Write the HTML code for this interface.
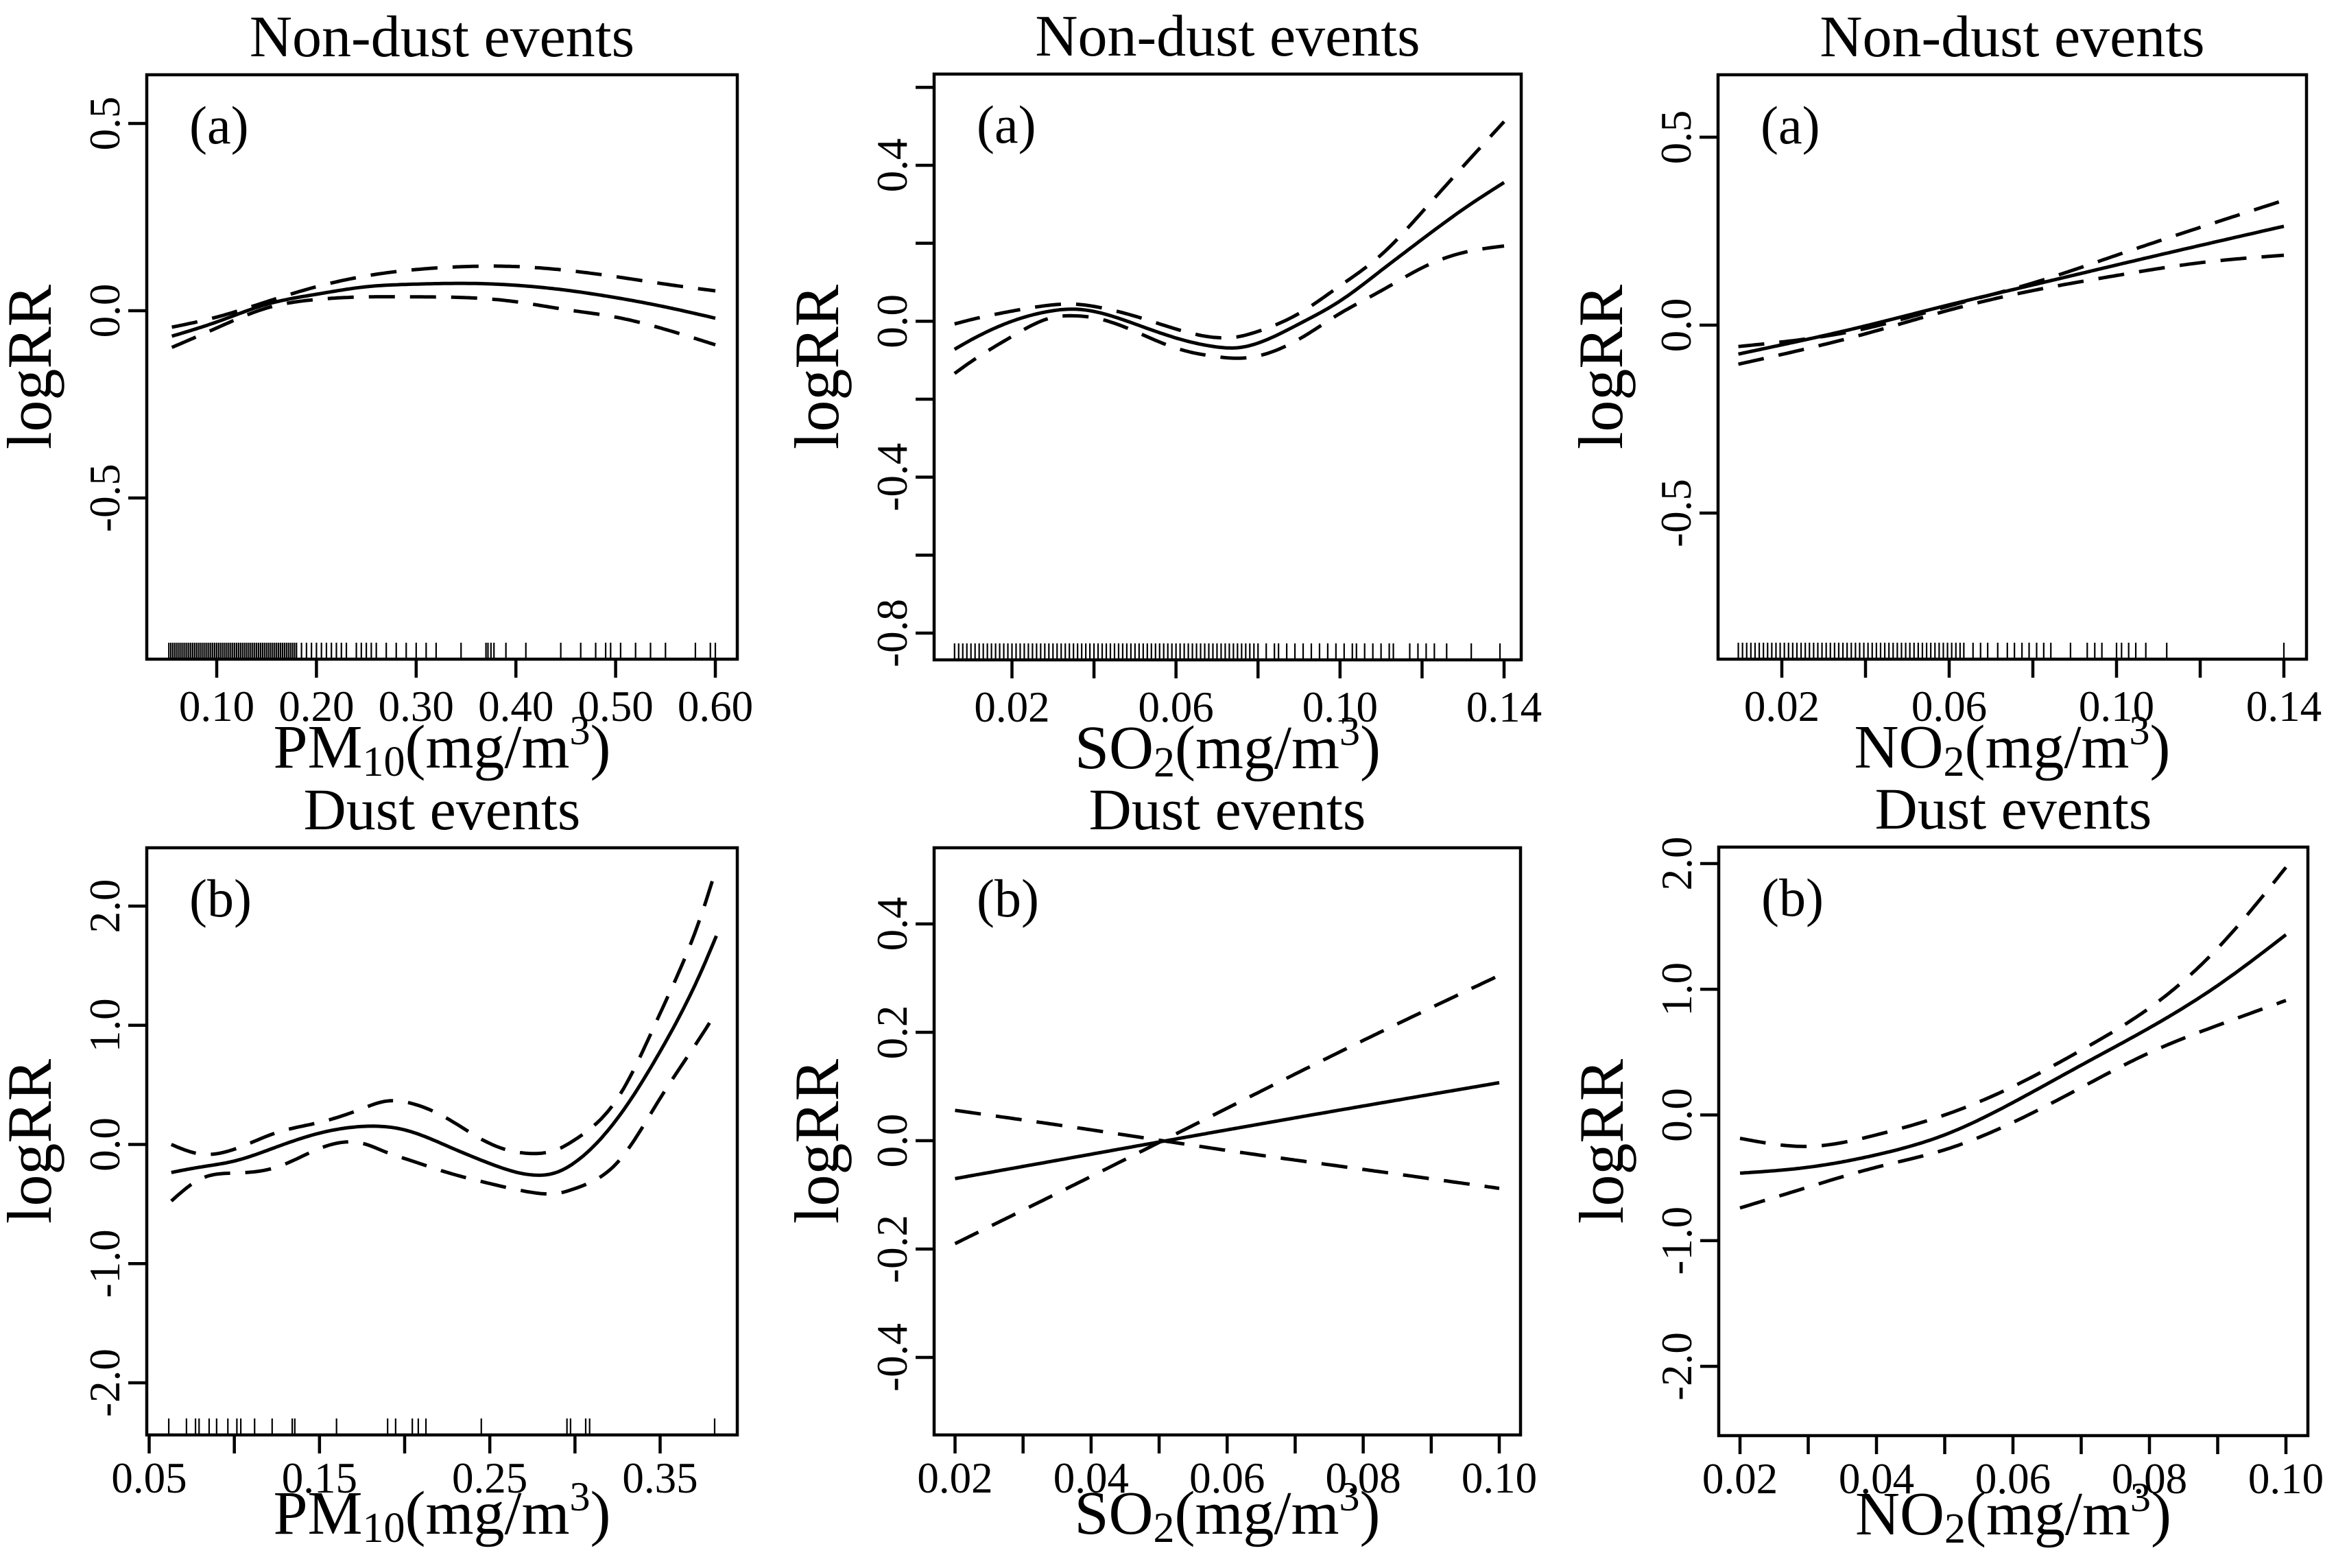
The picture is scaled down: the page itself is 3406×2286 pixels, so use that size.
<!DOCTYPE html>
<html><head><meta charset="utf-8"><title>logRR panels</title>
<style>
html,body{margin:0;padding:0;background:#fff;}
svg{display:block;}
text{font-family:"Liberation Serif","DejaVu Serif",serif;fill:#000;}
</style></head>
<body>
<svg id="fig" width="3406" height="2286" viewBox="0 0 3406 2286" xmlns="http://www.w3.org/2000/svg">
<rect x="0" y="0" width="3406" height="2286" fill="#fff"/>
</svg>
<script>
// ---------- Panel 1: Non-dust PM10 ----------
const p1X   = [0.055,0.10,0.15,0.20,0.25,0.30,0.35,0.40,0.45,0.50,0.55,0.60];
const p1Fit = [-0.068,-0.030,0.017,0.044,0.064,0.071,0.073,0.068,0.055,0.035,0.010,-0.020];
const p1Up  = [-0.044,-0.017,0.024,0.064,0.093,0.110,0.118,0.118,0.108,0.091,0.071,0.053];
const p1Lo  = [-0.098,-0.046,0.007,0.030,0.037,0.037,0.035,0.024,0.003,-0.017,-0.050,-0.091];
const p1Rug = [0.052,0.054,0.056,0.058,0.060,0.062,0.064,0.066,0.068,0.070,0.072,0.074,0.076,0.078,0.080,0.082,0.084,0.086,0.088,0.090,0.092,0.094,0.096,0.098,0.100,0.102,0.104,0.106,0.108,0.110,0.112,0.114,0.116,0.118,0.120,0.122,0.124,0.126,0.128,0.130,0.132,0.134,0.136,0.138,0.140,0.142,0.144,0.146,0.148,0.150,0.152,0.154,0.156,0.158,0.160,0.162,0.164,0.166,0.168,0.170,0.172,0.174,0.176,0.178,0.180,0.185,0.19,0.195,0.20,0.205,0.21,0.215,0.22,0.225,0.23,0.24,0.245,0.25,0.255,0.26,0.27,0.28,0.29,0.30,0.31,0.32,0.345,0.37,0.372,0.375,0.378,0.39,0.41,0.445,0.465,0.48,0.49,0.495,0.505,0.52,0.535,0.55,0.58,0.595,0.60];
const p1XTicks = [0.10,0.20,0.30,0.40,0.50,0.60];
const p1XLabels = ["0.10","0.20","0.30","0.40","0.50","0.60"];
const p1YTicks = [0.5,0.0,-0.5];
const p1YLabels = ["0.5","0.0","-0.5"];

// ---------- Panel 2: Non-dust SO2 ----------
const p2X   = [0.006,0.01,0.02,0.03,0.035,0.04,0.05,0.06,0.07,0.075,0.08,0.09,0.10,0.11,0.12,0.13,0.14];
const p2Fit = [-0.072,-0.048,0.000,0.027,0.031,0.025,-0.007,-0.043,-0.066,-0.068,-0.056,-0.007,0.052,0.130,0.210,0.287,0.356];
const p2Up  = [-0.007,0.004,0.026,0.042,0.044,0.038,0.013,-0.020,-0.042,-0.040,-0.026,0.020,0.091,0.170,0.280,0.397,0.512];
const p2Lo  = [-0.134,-0.104,-0.039,0.010,0.014,0.009,-0.026,-0.069,-0.091,-0.095,-0.089,-0.046,0.020,0.078,0.137,0.176,0.193];
const p2Rug = [0.006,0.007,0.008,0.009,0.010,0.011,0.012,0.013,0.014,0.015,0.016,0.017,0.018,0.019,0.020,0.021,0.022,0.023,0.024,0.025,0.026,0.027,0.028,0.029,0.030,0.031,0.032,0.033,0.034,0.035,0.036,0.037,0.038,0.039,0.040,0.041,0.042,0.043,0.044,0.045,0.046,0.047,0.048,0.049,0.050,0.051,0.052,0.053,0.054,0.055,0.056,0.057,0.058,0.059,0.060,0.061,0.062,0.063,0.064,0.065,0.066,0.067,0.068,0.069,0.070,0.071,0.072,0.073,0.074,0.075,0.076,0.077,0.078,0.079,0.080,0.082,0.084,0.085,0.087,0.089,0.091,0.093,0.095,0.097,0.099,0.101,0.103,0.104,0.106,0.108,0.110,0.112,0.113,0.117,0.119,0.121,0.123,0.126,0.132,0.139];
const p2XTicks = [0.02,0.04,0.06,0.08,0.10,0.12,0.14];
const p2XLabels = ["0.02","","0.06","","0.10","","0.14"];
const p2YTicks = [0.6,0.4,0.2,0.0,-0.2,-0.4,-0.6,-0.8];
const p2YLabels = ["","0.4","","0.0","","-0.4","","-0.8"];

// ---------- Panel 3: Non-dust NO2 ----------
const p3X   = [0.0096,0.04,0.06,0.08,0.10,0.12,0.14];
const p3Fit = [-0.077,-0.002,0.054,0.107,0.160,0.212,0.263];
const p3Up  = [-0.057,-0.009,0.051,0.112,0.186,0.260,0.332];
const p3Lo  = [-0.104,-0.023,0.040,0.092,0.132,0.166,0.186];
const p3Rug = [0.0096,0.0106,0.0116,0.0126,0.0136,0.0146,0.0156,0.0166,0.0176,0.0186,0.0196,0.0206,0.0216,0.0226,0.0236,0.0246,0.0256,0.0266,0.0276,0.0286,0.0296,0.0306,0.0316,0.0326,0.0336,0.0346,0.0356,0.0366,0.0376,0.0386,0.0396,0.0406,0.0416,0.0426,0.0436,0.0446,0.0456,0.0466,0.0476,0.0486,0.0496,0.0506,0.0516,0.0526,0.0536,0.0546,0.0556,0.0566,0.0576,0.0586,0.0596,0.0606,0.0616,0.0626,0.0635,0.0657,0.0675,0.0692,0.0716,0.0739,0.0756,0.0774,0.0791,0.0809,0.0826,0.0843,0.089,0.093,0.0948,0.0965,0.100,0.1012,0.1029,0.1046,0.107,0.112,0.14];
const p3XTicks = [0.02,0.04,0.06,0.08,0.10,0.12,0.14];
const p3XLabels = ["0.02","","0.06","","0.10","","0.14"];
const p3YTicks = [0.5,0.0,-0.5];
const p3YLabels = ["0.5","0.0","-0.5"];

// ---------- Panel 4: Dust PM10 ----------
const p4X   = [0.063,0.08,0.10,0.125,0.15,0.175,0.19,0.20,0.225,0.25,0.275,0.29,0.30,0.325,0.35,0.375,0.383];
const p4Fit = [-0.235,-0.190,-0.139,-0.020,0.095,0.151,0.147,0.122,-0.013,-0.160,-0.256,-0.230,-0.150,0.220,0.780,1.480,1.750];
const p4Up  = [0.000,-0.080,-0.040,0.100,0.185,0.300,0.365,0.357,0.218,0.008,-0.076,-0.040,0.040,0.387,1.100,1.960,2.320];
const p4Lo  = [-0.475,-0.290,-0.240,-0.190,-0.034,0.010,-0.070,-0.118,-0.235,-0.328,-0.403,-0.410,-0.370,-0.150,0.387,0.930,1.110];
const p4Rug = [0.0615,0.0719,0.0772,0.0793,0.0852,0.0896,0.0962,0.1015,0.1038,0.1119,0.1222,0.134,0.1355,0.160,0.190,0.1947,0.2045,0.208,0.2125,0.245,0.2953,0.2974,0.3063,0.3086,0.382];
const p4XTicks = [0.05,0.10,0.15,0.20,0.25,0.30,0.35];
const p4XLabels = ["0.05","","0.15","","0.25","","0.35"];
const p4YTicks = [2,1,0,-1,-2];
const p4YLabels = ["2.0","1.0","0.0","-1.0","-2.0"];

// ---------- Panel 5: Dust SO2 ----------
const p5X   = [0.02,0.04,0.06,0.08,0.10];
const p5Fit = [-0.070,-0.025,0.020,0.064,0.107];
const p5CiA = [0.056,0.020,-0.018,-0.053,-0.088];
const p5CiB = [-0.190,-0.066,0.060,0.185,0.305];
const p5XTicks = [0.02,0.03,0.04,0.05,0.06,0.07,0.08,0.09,0.10];
const p5XLabels = ["0.02","","0.04","","0.06","","0.08","","0.10"];
const p5YTicks = [0.4,0.2,0.0,-0.2,-0.4];
const p5YLabels = ["0.4","0.2","0.0","-0.2","-0.4"];

// ---------- Panel 6: Dust NO2 ----------
const p6X   = [0.02,0.03,0.04,0.05,0.06,0.07,0.08,0.09,0.10];
const p6Fit = [-0.463,-0.416,-0.317,-0.158,0.099,0.396,0.693,1.030,1.434];
const p6Up  = [-0.186,-0.250,-0.158,0.000,0.226,0.515,0.851,1.327,1.970];
const p6Lo  = [-0.740,-0.574,-0.416,-0.277,-0.059,0.218,0.495,0.713,0.911];
const p6XTicks = [0.02,0.03,0.04,0.05,0.06,0.07,0.08,0.09,0.10];
const p6XLabels = ["0.02","","0.04","","0.06","","0.08","","0.10"];
const p6YTicks = [2,1,0,-1,-2];
const p6YLabels = ["2.0","1.0","0.0","-1.0","-2.0"];

const NS = "http://www.w3.org/2000/svg";
const svg = document.getElementById('fig');

function mk(tag, attrs, parent){
  const e = document.createElementNS(NS, tag);
  for (const k in attrs) e.setAttribute(k, attrs[k]);
  (parent||svg).appendChild(e);
  return e;
}
function linScale(v0,p0,v1,p1){ return v => p0 + (v - v0) * (p1 - p0) / (v1 - v0); }
function splineSample(xv, yv, n){
  const k = xv.length;
  if (k < 3) return xv.map((x,i)=>[x,yv[i]]);
  const h = [], al = [], l = [1], mu = [0], z = [0], c = new Array(k).fill(0), b = [], d = [];
  for (let i = 0; i < k-1; i++) h.push(xv[i+1]-xv[i]);
  for (let i = 1; i < k-1; i++) al[i] = 3/h[i]*(yv[i+1]-yv[i]) - 3/h[i-1]*(yv[i]-yv[i-1]);
  for (let i = 1; i < k-1; i++){
    l[i] = 2*(xv[i+1]-xv[i-1]) - h[i-1]*mu[i-1];
    mu[i] = h[i]/l[i];
    z[i] = (al[i] - h[i-1]*z[i-1])/l[i];
  }
  l[k-1] = 1; z[k-1] = 0; c[k-1] = 0;
  for (let j = k-2; j >= 0; j--){
    c[j] = z[j] - mu[j]*c[j+1];
    b[j] = (yv[j+1]-yv[j])/h[j] - h[j]*(c[j+1]+2*c[j])/3;
    d[j] = (c[j+1]-c[j])/(3*h[j]);
  }
  const out = [];
  for (let s = 0; s <= n; s++){
    const x = xv[0] + (xv[k-1]-xv[0])*s/n;
    let j = 0;
    while (j < k-2 && x > xv[j+1]) j++;
    const dx = x - xv[j];
    out.push([x, yv[j] + b[j]*dx + c[j]*dx*dx + d[j]*dx*dx*dx]);
  }
  return out;
}

const panels = [
  {id:"p1", title:"Non-dust events", tag:"(a)", pol:"PM", sub:"10", box:[214,109,1075,961], xm:[0.10,316,0.60,1043], ym:[0.5,180,-0.5,726],
   x:p1X, series:[[p1Fit,"fit"],[p1Up,"upper"],[p1Lo,"lower"]], rug:p1Rug, xt:p1XTicks, xl:p1XLabels, yt:p1YTicks, yl:p1YLabels},
  {id:"p2", title:"Non-dust events", tag:"(a)", pol:"SO", sub:"2", box:[1362,108,2218,962], xm:[0.02,1475.5,0.14,2193], ym:[0.4,241,-0.8,923],
   x:p2X, series:[[p2Fit,"fit"],[p2Up,"upper"],[p2Lo,"lower"]], rug:p2Rug, xt:p2XTicks, xl:p2XLabels, yt:p2YTicks, yl:p2YLabels},
  {id:"p3", title:"Non-dust events", tag:"(a)", pol:"NO", sub:"2", box:[2505,109,3363,961], xm:[0.02,2598,0.14,3330], ym:[0.5,200,-0.5,748],
   x:p3X, series:[[p3Fit,"fit"],[p3Up,"upper"],[p3Lo,"lower"]], rug:p3Rug, xt:p3XTicks, xl:p3XLabels, yt:p3YTicks, yl:p3YLabels},
  {id:"p4", title:"Dust events", tag:"(b)", pol:"PM", sub:"10", box:[214,1236,1075,2092], xm:[0.05,217.5,0.35,962.5], ym:[2,1321,-2,2016],
   x:p4X, series:[[p4Fit,"fit"],[p4Up,"upper"],[p4Lo,"lower"]], rug:p4Rug, xt:p4XTicks, xl:p4XLabels, yt:p4YTicks, yl:p4YLabels},
  {id:"p5", title:"Dust events", tag:"(b)", pol:"SO", sub:"2", box:[1362,1236,2217,2092], xm:[0.02,1392.5,0.10,2186], ym:[0.4,1347,-0.4,1979],
   x:p5X, series:[[p5Fit,"fit"],[p5CiA,"upper"],[p5CiB,"lower"]], rug:[], xt:p5XTicks, xl:p5XLabels, yt:p5YTicks, yl:p5YLabels},
  {id:"p6", title:"Dust events", tag:"(b)", pol:"NO", sub:"2", box:[2506,1235,3365,2093], xm:[0.02,2537,0.10,3333], ym:[2,1259,-2,1992],
   x:p6X, series:[[p6Fit,"fit"],[p6Up,"upper"],[p6Lo,"lower"]], rug:[], xt:p6XTicks, xl:p6XLabels, yt:p6YTicks, yl:p6YLabels}
];

panels.forEach(P => {
  const g = mk('g', {});
  
  
  const [L,T,R,B] = P.box;
  const xs = linScale(P.xm[0],P.xm[1],P.xm[2],P.xm[3]);
  const ys = linScale(P.ym[0],P.ym[1],P.ym[2],P.ym[3]);
  const cx = (L+R)/2, cy = (T+B)/2;

  const title = mk('text', {x:cx, y:T-27, 'font-size':86, 'text-anchor':'middle'}, g);
  title.textContent = P.title;
  
  

  const clipId = P.id + '-clip';
  const cp = mk('clipPath', {id:clipId}, g);
  mk('rect', {x:L, y:T, width:R-L, height:B-T}, cp);

  const cg = mk('g', {'clip-path':'url(#'+clipId+')'}, g);
  P.series.forEach(([vals,kind]) => {
    const pts = splineSample(P.x, vals, 200).map(p => [xs(p[0]), ys(p[1])]);
    const d = "M" + pts.map(p => p[0].toFixed(1) + "," + p[1].toFixed(1)).join(" L");
    const path = mk('path', {d:d, fill:'none', stroke:'#000', 'stroke-width':5,
      'stroke-dasharray': kind === 'fit' ? 'none' : '38 22', 'stroke-linejoin':'round'}, cg);
    
    
  });

  if (P.rug.length){
    const rg = mk('g', {}, g);
    
    
    P.rug.forEach(v => {
      const x = xs(v);
      const ln = mk('line', {x1:x, x2:x, y1:B, y2:B-24, stroke:'#000', 'stroke-width':2.2}, rg);
      
      
    });
  }

  const box = mk('rect', {x:L, y:T, width:R-L, height:B-T, fill:'none', stroke:'#000', 'stroke-width':4.5}, g);
  
  

  P.xt.forEach((v,i) => {
    const x = xs(v);
    const t = mk('line', {x1:x, x2:x, y1:B, y2:B+27, stroke:'#000', 'stroke-width':4.5}, g);
    
    
    if (P.xl[i]){
      const lb = mk('text', {x:x, y:B + (T < 500 ? 90 : 84), 'font-size':63, 'text-anchor':'middle'}, g);
      lb.textContent = P.xl[i];
      
      
    }
  });
  P.yt.forEach((v,i) => {
    const y = ys(v);
    const t = mk('line', {x1:L, x2:L-27, y1:y, y2:y, stroke:'#000', 'stroke-width':4.5}, g);
    
    
    if (P.yl[i]){
      const bx = L - 40;
      const lb = mk('text', {x:bx, y:y, 'font-size':63, 'text-anchor':'middle', transform:'rotate(-90 '+bx+' '+y+')'}, g);
      lb.textContent = P.yl[i];
      
      
    }
  });

  const yx = L - 140;
  const yt = mk('text', {x:yx, y:cy, 'font-size':92, 'text-anchor':'middle', transform:'rotate(-90 '+yx+' '+cy+')'}, g);
  yt.textContent = 'logRR';
  
  

  const xt = mk('text', {x:cx, y:B + (T < 500 ? 158 : 144), 'font-size':90, 'text-anchor':'middle'}, g);
  
  
  const s1 = mk('tspan', {}, xt); s1.textContent = P.pol;
  const s2 = mk('tspan', {'font-size':62, dy:12}, xt); s2.textContent = P.sub;
  const s3 = mk('tspan', {dy:-12}, xt); s3.textContent = '(mg/m';
  const s4 = mk('tspan', {'font-size':60, dy:-34}, xt); s4.textContent = '3';
  const s5 = mk('tspan', {dy:34}, xt); s5.textContent = ')';

  const tg = mk('text', {x:L+62, y:T+100, 'font-size':78}, g);
  tg.textContent = P.tag;
  
  
});
</script>
</body></html>
